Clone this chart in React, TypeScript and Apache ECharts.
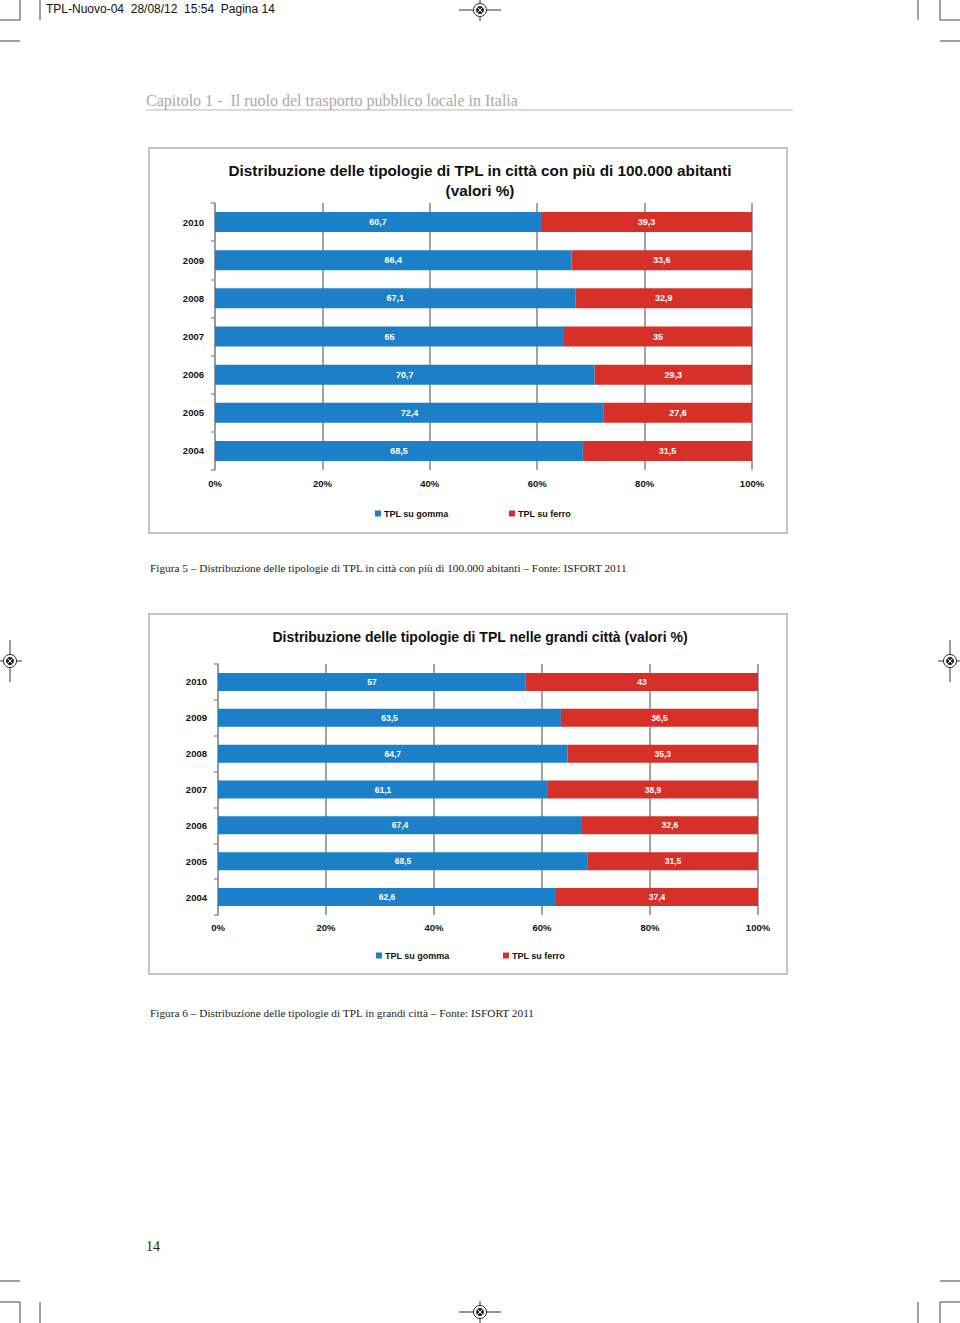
import React, { useEffect, useRef } from "react";
import * as echarts from "echarts";

const years = ["2010", "2009", "2008", "2007", "2006", "2005", "2004"];
const gommaCitta100k = [60.7, 66.4, 67.1, 65, 70.7, 72.4, 68.5];
const ferroCitta100k = [39.3, 33.6, 32.9, 35, 29.3, 27.6, 31.5];
const gommaGrandi = [57, 63.5, 64.7, 61.1, 67.4, 68.5, 62.6];
const ferroGrandi = [43, 36.5, 35.3, 38.9, 32.6, 31.5, 37.4];
const seriesNames = ["TPL su gomma", "TPL su ferro"];
const title1Line1 = "Distribuzione delle tipologie di TPL in città con più di 100.000 abitanti";
const title1Line2 = "(valori %)";
const title2 = "Distribuzione delle tipologie di TPL nelle grandi città (valori %)";
const caption1 = "Figura 5 – Distribuzione delle tipologie di TPL in città con più di 100.000 abitanti – Fonte: ISFORT 2011";
const caption2 = "Figura 6 – Distribuzione delle tipologie di TPL in grandi città – Fonte: ISFORT 2011";
const headerText = "TPL-Nuovo-04  28/08/12  15:54  Pagina 14";
const chapterText = "Capitolo 1 -  Il ruolo del trasporto pubblico locale in Italia";
const pageNumber = "14";

const BLUE = "#1c80c8";
const RED = "#d63028";
const SANS = "'Liberation Sans', Arial, sans-serif";
const SERIF = "'Liberation Serif', 'Times New Roman', serif";

function line(x1: number, y1: number, x2: number, y2: number, color = "#444", w = 1) {
  return { type: "line", silent: true, shape: { x1, y1, x2, y2 }, style: { stroke: color, lineWidth: w } };
}

function regMark(cx: number, cy: number, horizontal: [number, number], vertical: [number, number]) {
  return [
    line(horizontal[0], cy, horizontal[1], cy, "#333", 1),
    line(cx, vertical[0], cx, vertical[1], "#333", 1),
    { type: "circle", silent: true, shape: { cx, cy, r: 6.5 }, style: { fill: "#fff", stroke: "#222", lineWidth: 1 } },
    { type: "circle", silent: true, shape: { cx, cy, r: 4 }, style: { fill: "#222" } },
    line(cx - 2.5, cy - 2.5, cx + 2.5, cy + 2.5, "#fff", 1),
    line(cx - 2.5, cy + 2.5, cx + 2.5, cy - 2.5, "#fff", 1),
  ];
}

function labelFmt(p: any) {
  return String(p.value).replace(".", ",");
}

function barSeries(name: string, data: number[], idx: number, color: string, barWidth: number, fontSize: number) {
  return {
    name,
    type: "bar",
    stack: "s" + idx,
    xAxisIndex: idx,
    yAxisIndex: idx,
    data,
    barWidth,
    itemStyle: { color },
    label: {
      show: true,
      position: "inside",
      color: "#fff",
      fontWeight: "bold",
      fontSize,
      fontFamily: SANS,
      formatter: labelFmt,
    },
  };
}

function xAxis(idx: number, margin: number) {
  return {
    type: "value",
    gridIndex: idx,
    min: 0,
    max: 100,
    interval: 20,
    axisLine: { show: false },
    axisTick: { show: false },
    splitLine: { show: true, lineStyle: { color: "#a3a3a3", width: 2 } },
    axisLabel: {
      formatter: "{value}%",
      color: "#111",
      fontWeight: "bold",
      fontSize: 9.5,
      fontFamily: SANS,
      margin,
    },
  };
}

function yAxis(idx: number) {
  return {
    type: "category",
    gridIndex: idx,
    inverse: true,
    data: years,
    axisLine: { show: true, lineStyle: { color: "#999", width: 1.5 } },
    axisTick: { show: true, length: 4, lineStyle: { color: "#999", width: 1.5 } },
    axisLabel: { color: "#111", fontWeight: "bold", fontSize: 9.5, fontFamily: SANS, margin: 11 },
  };
}

function legend(name: string, left: number, top: number) {
  return {
    data: [name],
    left,
    top,
    padding: 0,
    icon: "rect",
    itemWidth: 6,
    itemHeight: 6,
    itemGap: 0,
    textStyle: { color: "#111", fontWeight: "bold", fontSize: 9, fontFamily: SANS, padding: [0, 0, 0, -2] },
  };
}

function title(text: string, top: number, fontSize: number) {
  return {
    text,
    left: "center",
    top,
    padding: 0,
    textStyle: { fontSize, fontWeight: "bold", color: "#111", fontFamily: SANS },
  };
}

export default function App() {
  const ref = useRef<HTMLDivElement>(null);

  useEffect(() => {
    if (!ref.current) return;
    const chart = echarts.init(ref.current, null, { renderer: "svg" });

    const graphic: any[] = [
      // crop marks top
      line(20, 0, 20, 20), line(0, 20, 20, 20), line(40, 0, 40, 20),
      line(0, 41, 20, 41),
      line(918, 0, 918, 20), line(940, 0, 940, 20), line(940, 20, 960, 20),
      line(940, 41, 960, 41),
      // crop marks bottom
      line(0, 1281, 20, 1281), line(940, 1281, 960, 1281),
      line(0, 1302, 20, 1302), line(20, 1302, 20, 1323), line(40, 1302, 40, 1323),
      line(918, 1302, 918, 1323), line(940, 1302, 960, 1302), line(940, 1302, 940, 1323),
      ...regMark(480, 10, [459, 501], [0, 21]),
      ...regMark(480, 1312, [459, 501], [1301, 1323]),
      ...regMark(10, 661, [0, 22], [640, 682]),
      ...regMark(950, 661, [938, 960], [640, 682]),
      {
        type: "text", silent: true, x: 46, y: 9,
        style: { text: headerText, fill: "#111", font: `12px ${SANS}`, verticalAlign: "middle" },
      },
      {
        type: "text", silent: true, x: 146, y: 100,
        style: { text: chapterText, fill: "#a9a9a9", font: `16px ${SERIF}`, verticalAlign: "middle" },
      },
      line(146, 110, 793, 110, "#b5b5b5", 1),
      // frames
      { type: "rect", silent: true, shape: { x: 149, y: 148, width: 638, height: 385 }, style: { fill: "none", stroke: "#c4c4c4", lineWidth: 2 } },
      { type: "rect", silent: true, shape: { x: 149, y: 614, width: 638, height: 360 }, style: { fill: "none", stroke: "#c4c4c4", lineWidth: 2 } },
      {
        type: "text", silent: true, x: 150, y: 568,
        style: { text: caption1, fill: "#222", font: `11.3px ${SERIF}`, verticalAlign: "middle" },
      },
      {
        type: "text", silent: true, x: 150, y: 1013,
        style: { text: caption2, fill: "#222", font: `11.3px ${SERIF}`, verticalAlign: "middle" },
      },
      {
        type: "text", silent: true, x: 146, y: 1246,
        style: { text: pageNumber, fill: "#222", font: `14px ${SERIF}`, verticalAlign: "middle" },
      },
    ];

    chart.setOption({
      animation: false,
      backgroundColor: "#fff",
      title: [
        title(title1Line1, 163, 15.3),
        title(title1Line2, 183, 15.3),
        title(title2, 630, 14),
      ],
      legend: [
        legend(seriesNames[0], 375, 509),
        legend(seriesNames[1], 509, 509),
        legend(seriesNames[0], 376, 951),
        legend(seriesNames[1], 503, 951),
      ],
      grid: [
        { left: 215, width: 537, top: 203, height: 267, containLabel: false },
        { left: 218, width: 540, top: 664, height: 251, containLabel: false },
      ],
      xAxis: [xAxis(0, 8), xAxis(1, 7)],
      yAxis: [yAxis(0), yAxis(1)],
      series: [
        barSeries(seriesNames[0], gommaCitta100k, 0, BLUE, 20, 9),
        barSeries(seriesNames[1], ferroCitta100k, 0, RED, 20, 9),
        barSeries(seriesNames[0], gommaGrandi, 1, BLUE, 18, 8.5),
        barSeries(seriesNames[1], ferroGrandi, 1, RED, 18, 8.5),
      ],
      graphic,
    });

    return () => chart.dispose();
  }, []);

  return (
    <div
      ref={ref}
      style={{ position: "absolute", left: 0, top: 0, width: 960, height: 1323, background: "#fff" }}
    />
  );
}
